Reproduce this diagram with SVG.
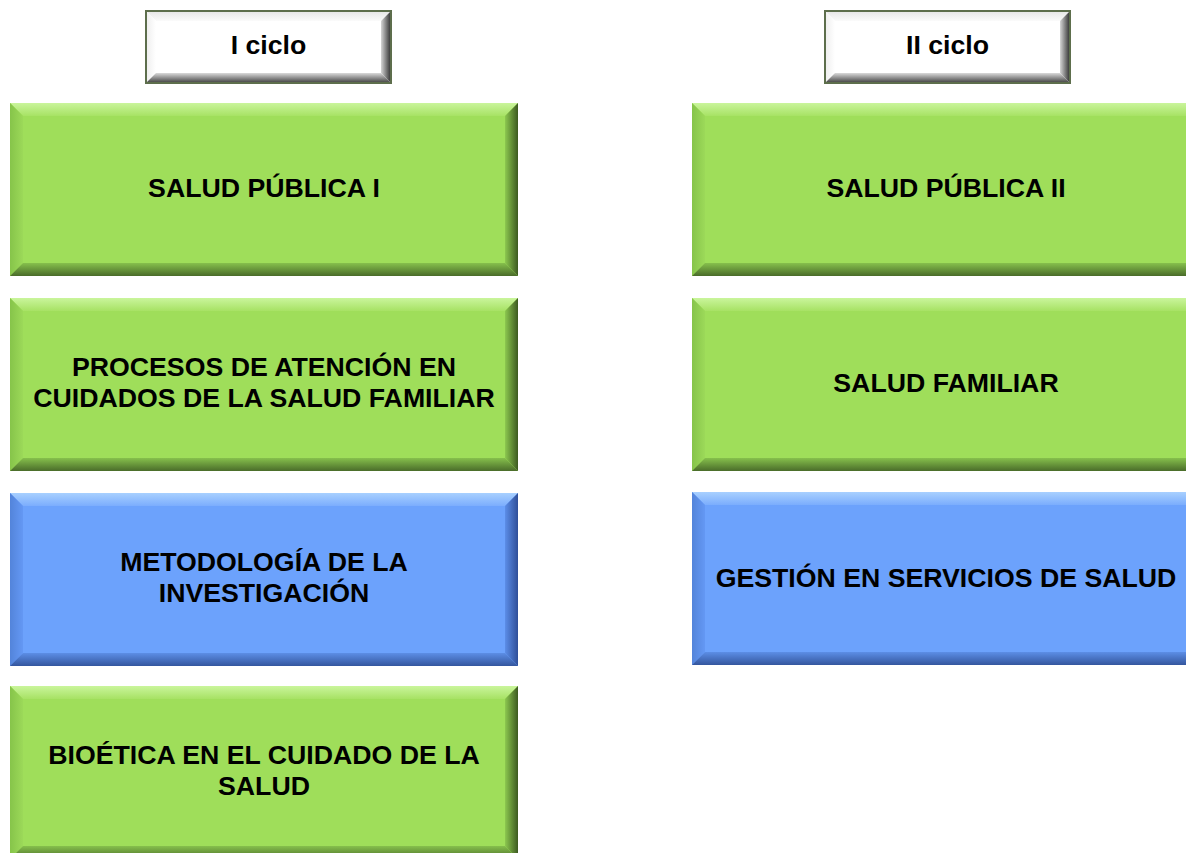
<svg xmlns="http://www.w3.org/2000/svg" width="1186" height="853" viewBox="0 0 1186 853">
<defs>
<linearGradient id="gT" x1="0" y1="0" x2="0" y2="1"><stop offset="0" stop-color="#caf59c"/><stop offset="1" stop-color="#a7e264"/></linearGradient>
<linearGradient id="gL" x1="0" y1="0" x2="1" y2="0"><stop offset="0" stop-color="#86c44a"/><stop offset="1" stop-color="#9cd959"/></linearGradient>
<linearGradient id="gR" x1="0" y1="0" x2="1" y2="0"><stop offset="0" stop-color="#8cc84f"/><stop offset="1" stop-color="#3d5a21"/></linearGradient>
<linearGradient id="gB" x1="0" y1="0" x2="0" y2="1"><stop offset="0" stop-color="#86c04c"/><stop offset="1" stop-color="#4a6c2a"/></linearGradient>
<linearGradient id="bT" x1="0" y1="0" x2="0" y2="1"><stop offset="0" stop-color="#a8d0ff"/><stop offset="1" stop-color="#7badfd"/></linearGradient>
<linearGradient id="bL" x1="0" y1="0" x2="1" y2="0"><stop offset="0" stop-color="#5384da"/><stop offset="1" stop-color="#6498f4"/></linearGradient>
<linearGradient id="bR" x1="0" y1="0" x2="1" y2="0"><stop offset="0" stop-color="#5c8ee8"/><stop offset="1" stop-color="#2f4f99"/></linearGradient>
<linearGradient id="bB" x1="0" y1="0" x2="0" y2="1"><stop offset="0" stop-color="#5c8ee6"/><stop offset="1" stop-color="#34569e"/></linearGradient>
<linearGradient id="wT" x1="0" y1="0" x2="0" y2="1"><stop offset="0" stop-color="#e6e6e6"/><stop offset="1" stop-color="#fbfbfb"/></linearGradient>
<linearGradient id="wL" x1="0" y1="0" x2="1" y2="0"><stop offset="0" stop-color="#eeeeee"/><stop offset="1" stop-color="#ffffff"/></linearGradient>
<linearGradient id="wR" x1="0" y1="0" x2="1" y2="0"><stop offset="0" stop-color="#d6d6d6"/><stop offset="1" stop-color="#2e2e2e"/></linearGradient>
<linearGradient id="wB" x1="0" y1="0" x2="0" y2="1"><stop offset="0" stop-color="#dadada"/><stop offset="1" stop-color="#3e3e3e"/></linearGradient>
</defs>
<style>
.green .base{fill:#9fde5a}
.green .t{fill:url(#gT)}.green .l{fill:url(#gL)}.green .r{fill:url(#gR)}.green .b{fill:url(#gB)}
.blue .base{fill:#6ca2fc}
.blue .t{fill:url(#bT)}.blue .l{fill:url(#bL)}.blue .r{fill:url(#bR)}.blue .b{fill:url(#bB)}
.white .base{fill:#ffffff}
.white .t{fill:url(#wT)}.white .l{fill:url(#wL)}.white .r{fill:url(#wR)}.white .b{fill:url(#wB)}
.white .edge{fill:none;stroke:#5d6e4c;stroke-width:2}
text{font-family:"Liberation Sans",Arial,sans-serif;font-weight:bold;font-size:26.7px;fill:#000;text-anchor:middle}
</style>
<rect width="1186" height="853" fill="#ffffff"/>
<g id="connectors"></g>

<g id="ciclo1" class="white">
<rect class="base" x="146" y="11" width="245" height="72"/>
<polygon class="t" points="146,11 391,11 381,21 156,21"/>
<polygon class="l" points="146,11 156,21 156,73 146,83"/>
<polygon class="r" points="391,11 391,83 381,73 381,21"/>
<polygon class="b" points="146,83 156,73 381,73 391,83"/>
<rect class="edge" x="146" y="11" width="245" height="72"/>
<text x="268.5" y="54">I ciclo</text>
</g>

<g id="ciclo2" class="white">
<rect class="base" x="825" y="11" width="245" height="72"/>
<polygon class="t" points="825,11 1070,11 1060,21 835,21"/>
<polygon class="l" points="825,11 835,21 835,73 825,83"/>
<polygon class="r" points="1070,11 1070,83 1060,73 1060,21"/>
<polygon class="b" points="825,83 835,73 1060,73 1070,83"/>
<rect class="edge" x="825" y="11" width="245" height="72"/>
<text x="947.5" y="54">II ciclo</text>
</g>

<g id="salud-publica-1" class="green">
<rect class="base" x="10" y="103" width="508" height="173"/>
<polygon class="t" points="10,103 518,103 505,116 23,116"/>
<polygon class="l" points="10,103 23,116 23,263 10,276"/>
<polygon class="r" points="518,103 518,276 505,263 505,116"/>
<polygon class="b" points="10,276 23,263 505,263 518,276"/>
<text x="264" y="197">SALUD PÚBLICA I</text>
</g>

<g id="procesos" class="green">
<rect class="base" x="10" y="298" width="508" height="173"/>
<polygon class="t" points="10,298 518,298 505,311 23,311"/>
<polygon class="l" points="10,298 23,311 23,458 10,471"/>
<polygon class="r" points="518,298 518,471 505,458 505,311"/>
<polygon class="b" points="10,471 23,458 505,458 518,471"/>
<text x="264" y="376">PROCESOS DE ATENCIÓN EN</text>
<text x="264" y="407">CUIDADOS DE LA SALUD FAMILIAR</text>
</g>

<g id="metodologia" class="blue">
<rect class="base" x="10" y="493" width="508" height="173"/>
<polygon class="t" points="10,493 518,493 505,506 23,506"/>
<polygon class="l" points="10,493 23,506 23,653 10,666"/>
<polygon class="r" points="518,493 518,666 505,653 505,506"/>
<polygon class="b" points="10,666 23,653 505,653 518,666"/>
<text x="264" y="571">METODOLOGÍA DE LA</text>
<text x="264" y="602">INVESTIGACIÓN</text>
</g>

<g id="bioetica" class="green">
<rect class="base" x="10" y="686" width="508" height="173"/>
<polygon class="t" points="10,686 518,686 505,699 23,699"/>
<polygon class="l" points="10,686 23,699 23,846 10,859"/>
<polygon class="r" points="518,686 518,859 505,846 505,699"/>
<polygon class="b" points="10,859 23,846 505,846 518,859"/>
<text x="264" y="764">BIOÉTICA EN EL CUIDADO DE LA</text>
<text x="264" y="795">SALUD</text>
</g>

<g id="salud-publica-2" class="green">
<rect class="base" x="692" y="103" width="508" height="173"/>
<polygon class="t" points="692,103 1200,103 1187,116 705,116"/>
<polygon class="l" points="692,103 705,116 705,263 692,276"/>
<polygon class="r" points="1200,103 1200,276 1187,263 1187,116"/>
<polygon class="b" points="692,276 705,263 1187,263 1200,276"/>
<text x="946" y="197">SALUD PÚBLICA II</text>
</g>

<g id="salud-familiar" class="green">
<rect class="base" x="692" y="298" width="508" height="173"/>
<polygon class="t" points="692,298 1200,298 1187,311 705,311"/>
<polygon class="l" points="692,298 705,311 705,458 692,471"/>
<polygon class="r" points="1200,298 1200,471 1187,458 1187,311"/>
<polygon class="b" points="692,471 705,458 1187,458 1200,471"/>
<text x="946" y="392">SALUD FAMILIAR</text>
</g>

<g id="gestion" class="blue">
<rect class="base" x="692" y="492" width="508" height="173"/>
<polygon class="t" points="692,492 1200,492 1187,505 705,505"/>
<polygon class="l" points="692,492 705,505 705,652 692,665"/>
<polygon class="r" points="1200,492 1200,665 1187,652 1187,505"/>
<polygon class="b" points="692,665 705,652 1187,652 1200,665"/>
<text x="946" y="587">GESTIÓN EN SERVICIOS DE SALUD</text>
</g>
</svg>
